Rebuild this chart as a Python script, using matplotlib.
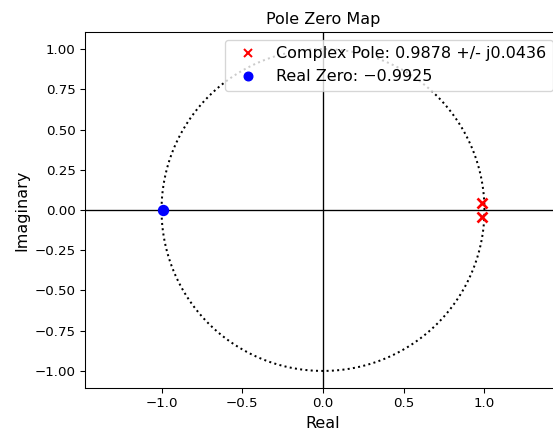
import numpy as np
import matplotlib
matplotlib.use("Agg")
import matplotlib.pyplot as plt
from matplotlib.lines import Line2D

pole_re = [0.9878, 0.9878]
pole_im = [0.0436, -0.0436]
zero_re = [-0.9925]
zero_im = [0.0]
pole_label = "Complex Pole: 0.9878 +/- j0.0436"
zero_label = "Real Zero: \u22120.9925"

DPI = 96
fig = plt.figure(figsize=(553/DPI, 434/DPI), dpi=DPI)
ax = fig.add_axes([85/553, 46/434, 476/553, 356/434])

theta = np.linspace(0, 2*np.pi, 400)
ax.plot(np.cos(theta), np.sin(theta), linestyle=':', color='black', linewidth=1.5)
ax.axhline(0, color='black', linewidth=1)
ax.axvline(0, color='black', linewidth=1)
ax.plot(pole_re, pole_im, 'x', color='red', markersize=7.5, markeredgewidth=2, linestyle='none')
ax.plot(zero_re, zero_im, 'o', color='blue', markersize=7.5, linestyle='none')

ax.set_xlim(-1.474, 1.474)
ax.set_ylim(-1.106, 1.106)
ax.set_xticks([-1.0, -0.5, 0.0, 0.5, 1.0])
ax.set_yticks([-1.0, -0.75, -0.5, -0.25, 0.0, 0.25, 0.5, 0.75, 1.0])
ax.set_title("Pole Zero Map", fontsize=12)
ax.set_xlabel("Real", fontsize=12)
ax.set_ylabel("Imaginary", fontsize=12)
handles = [
    Line2D([], [], marker='x', color='red', markersize=6, markeredgewidth=1.5, linestyle='none'),
    Line2D([], [], marker='o', color='blue', markersize=6.5, linestyle='none'),
]
ax.legend(handles, [pole_label, zero_label], loc='upper right', fontsize=12)

fig.savefig("out.png", dpi=DPI)
